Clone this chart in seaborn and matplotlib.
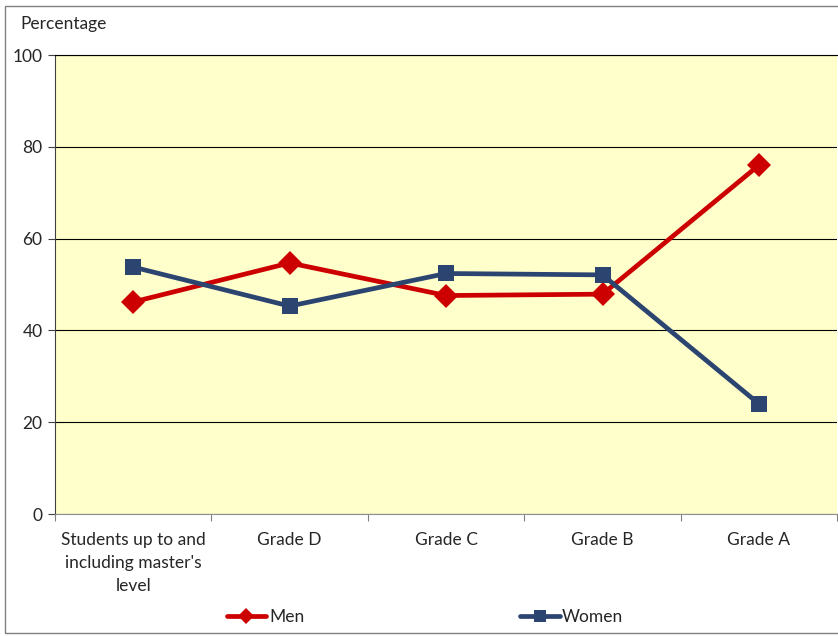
import numpy as np
import pandas as pd
import matplotlib
matplotlib.use("Agg")
import matplotlib.pyplot as plt
import seaborn as sns
from matplotlib.patches import Rectangle

categories = ["Students up to and\nincluding master's\nlevel", "Grade D", "Grade C", "Grade B", "Grade A"]
men = [46.2, 54.7, 47.6, 47.9, 76.0]
women = [53.8, 45.3, 52.4, 52.1, 24.0]
series = ["Men", "Women"]
colors = {"Men": "#CC0000", "Women": "#2B4470"}

rows = []
for i in range(len(categories)):
    rows.append({"pos": i, "group": "Men", "value": men[i]})
    rows.append({"pos": i, "group": "Women", "value": women[i]})
df = pd.DataFrame(rows)

sns.set_style("white")
plt.rcParams['font.family'] = ['Lato', 'DejaVu Sans']
fs = 12.5

fig = plt.figure(figsize=(8.38, 6.36), dpi=100)
ax = fig.add_axes([0.0656, 0.1918, 0.9334, 0.7217])
ax.set_facecolor("#FFFFCC")

sns.lineplot(data=df, x="pos", y="value", hue="group", style="group",
             markers={"Men": "D", "Women": "s"}, dashes=False,
             palette=colors, linewidth=3.4, markersize=12,
             markeredgewidth=0, ax=ax)

ax.set_xlim(-0.5, len(categories) - 0.5)
ax.set_ylim(0, 100)
ax.set_yticks([0, 20, 40, 60, 80, 100])
ax.tick_params(axis="y", labelsize=fs, length=5, width=0.8, color="#404040", left=True, pad=4)
ax.yaxis.grid(True, color="black", linewidth=0.8)
ax.set_axisbelow(True)

ax.set_xticks(np.arange(-0.5, len(categories), 1.0))
ax.set_xticklabels([])
ax.tick_params(axis="x", which="major", length=5, width=0.8, color="#808080", bottom=True)
ax.set_xticks(np.arange(len(categories)), minor=True)
ax.set_xticklabels(categories, minor=True, fontsize=fs, linespacing=1.55)
ax.tick_params(axis="x", which="minor", length=0, pad=13)

ax.set_xlabel("")
ax.set_ylabel("")
ax.spines["right"].set_visible(False)
ax.spines["left"].set_color("#404040")
ax.spines["bottom"].set_color("#909090")
ax.spines["top"].set_color("black")
ax.spines["top"].set_linewidth(0.8)

fig.text(0.024, 0.963, "Percentage", fontsize=fs, va="center", ha="left")

handles, labels = ax.get_legend_handles_labels()
ax.legend(handles, labels, loc="center", bbox_to_anchor=(0.473, -0.225),
          ncol=2, frameon=False, fontsize=fs, columnspacing=12.4,
          handlelength=2.3, handletextpad=0.15, markerscale=0.7)

fig.add_artist(Rectangle((0.006, 0.004), 1.2, 0.986, transform=fig.transFigure,
                         fill=False, edgecolor="#808080", linewidth=1.0))

fig.savefig("out.png", dpi=100)
